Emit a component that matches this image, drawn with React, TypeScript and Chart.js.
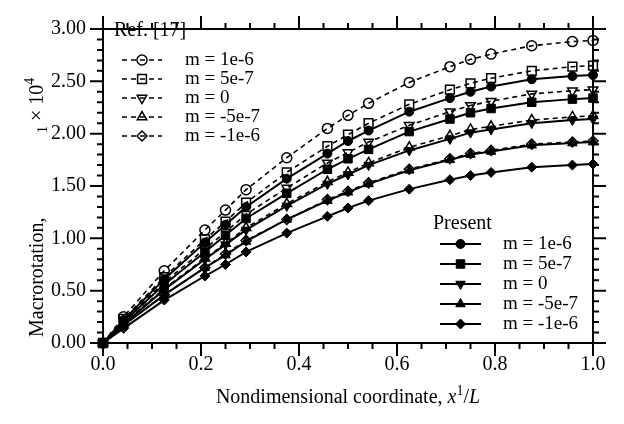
import React, { useEffect, useRef } from 'react';
import { Chart, registerables } from 'chart.js';
import { drawPoint } from 'chart.js/helpers';

Chart.register(...registerables);

const FONT = "'Liberation Serif', 'Times New Roman', serif";

// Nondimensional coordinate x1/L
const xCoord = [0, 0.042, 0.125, 0.208, 0.25, 0.292, 0.375, 0.458, 0.5, 0.542, 0.625, 0.708, 0.75, 0.792, 0.875, 0.958, 1.0];

// Ref. [17] (dashed, open markers)
const refM1e6 = [0, 0.25, 0.69, 1.08, 1.27, 1.465, 1.77, 2.05, 2.175, 2.29, 2.49, 2.64, 2.71, 2.76, 2.84, 2.88, 2.89];
const refM5e7 = [0, 0.23, 0.63, 0.99, 1.16, 1.34, 1.63, 1.88, 1.99, 2.10, 2.28, 2.42, 2.48, 2.53, 2.60, 2.64, 2.65];
const refM0 = [0, 0.21, 0.58, 0.9, 1.06, 1.23, 1.48, 1.72, 1.82, 1.92, 2.08, 2.21, 2.27, 2.31, 2.38, 2.41, 2.42];
const refMm5e7 = [0, 0.19, 0.52, 0.81, 0.95, 1.10, 1.33, 1.54, 1.63, 1.72, 1.87, 1.98, 2.04, 2.07, 2.13, 2.16, 2.17];
const refMm1e6 = [0, 0.17, 0.46, 0.72, 0.85, 0.98, 1.18, 1.37, 1.45, 1.53, 1.66, 1.76, 1.81, 1.84, 1.90, 1.92, 1.93];

// Present (solid, filled markers)
const preM1e6 = [0, 0.22, 0.61, 0.96, 1.13, 1.30, 1.57, 1.81, 1.93, 2.03, 2.21, 2.34, 2.40, 2.45, 2.52, 2.55, 2.56];
const preM5e7 = [0, 0.20, 0.56, 0.87, 1.03, 1.19, 1.43, 1.66, 1.76, 1.85, 2.02, 2.14, 2.20, 2.24, 2.30, 2.33, 2.34];
const preM0 = [0, 0.18, 0.51, 0.80, 0.94, 1.08, 1.31, 1.52, 1.61, 1.70, 1.84, 1.95, 2.01, 2.04, 2.10, 2.13, 2.14];
const preMm5e7 = [0, 0.17, 0.46, 0.72, 0.84, 0.97, 1.18, 1.36, 1.44, 1.52, 1.65, 1.75, 1.80, 1.83, 1.89, 1.91, 1.92];
const preMm1e6 = [0, 0.14, 0.41, 0.64, 0.75, 0.87, 1.05, 1.21, 1.29, 1.36, 1.47, 1.56, 1.60, 1.63, 1.68, 1.70, 1.71];

const seriesLabels = ['m = 1e-6', 'm = 5e-7', 'm = 0', 'm = -5e-7', 'm = -1e-6'];
const refTitle = 'Ref. [17]';
const presentTitle = 'Present';

const xTickValues = [0, 0.2, 0.4, 0.6, 0.8, 1.0];
const xTickLabels = ['0.0', '0.2', '0.4', '0.6', '0.8', '1.0'];
const yTickValues = [0, 0.5, 1.0, 1.5, 2.0, 2.5, 3.0];
const yTickLabels = ['0.00', '0.50', '1.00', '1.50', '2.00', '2.50', '3.00'];
const xMinorStep = 0.05;
const yMinorStep = 0.1;

const markerStyles = [
  { pointStyle: 'circle', rotation: 0 },
  { pointStyle: 'rect', rotation: 0 },
  { pointStyle: 'triangle', rotation: 180 },
  { pointStyle: 'triangle', rotation: 0 },
  { pointStyle: 'rectRot', rotation: 0 },
];
const refRadius = [5, 6.2, 5.5, 5.5, 5];
const preRadius = [4.5, 6, 5.5, 5.5, 5];

const refSeries = [refM1e6, refM5e7, refM0, refMm5e7, refMm1e6];
const preSeries = [preM1e6, preM5e7, preM0, preMm5e7, preMm1e6];

function toPoints(arr: number[]) {
  return xCoord.map((x, i) => ({ x, y: arr[i] }));
}

const decorPlugin = {
  id: 'decor',
  afterDraw(chart: any) {
    const { ctx, chartArea: a, scales } = chart;
    const xs = scales.x;
    const ys = scales.y;
    ctx.save();
    ctx.strokeStyle = '#000';
    ctx.fillStyle = '#000';
    ctx.lineWidth = 2;
    ctx.setLineDash([]);
    // frame
    ctx.beginPath();
    ctx.rect(a.left, a.top, a.right - a.left, a.bottom - a.top);
    ctx.stroke();
    // ticks (outward on all four sides)
    ctx.beginPath();
    const nx = Math.round((xs.max - xs.min) / xMinorStep);
    for (let i = 0; i <= nx; i++) {
      const v = xs.min + i * xMinorStep;
      const major = xTickValues.some((t) => Math.abs(t - v) < 1e-6);
      const len = major ? 13 : 6;
      const px = xs.getPixelForValue(v);
      ctx.moveTo(px, a.bottom);
      ctx.lineTo(px, a.bottom + len);
      ctx.moveTo(px, a.top);
      ctx.lineTo(px, a.top - len);
    }
    const ny = Math.round((ys.max - ys.min) / yMinorStep);
    for (let i = 0; i <= ny; i++) {
      const v = ys.min + i * yMinorStep;
      const major = yTickValues.some((t) => Math.abs(t - v) < 1e-6);
      const len = major ? 13 : 6;
      const py = ys.getPixelForValue(v);
      ctx.moveTo(a.left, py);
      ctx.lineTo(a.left - len, py);
      ctx.moveTo(a.right, py);
      ctx.lineTo(a.right + len, py);
    }
    ctx.stroke();

    // legends
    const drawLegend = (
      title: string,
      titleX: number,
      titleY: number,
      x1: number,
      x2: number,
      textX: number,
      rows: number[],
      dsOffset: number
    ) => {
      ctx.font = `20px ${FONT}`;
      ctx.textAlign = 'left';
      ctx.textBaseline = 'middle';
      ctx.fillStyle = '#000';
      ctx.fillText(title, titleX, titleY);
      rows.forEach((ry, i) => {
        const ds = chart.data.datasets[dsOffset + i];
        ctx.save();
        ctx.strokeStyle = '#000';
        ctx.lineWidth = ds.borderWidth;
        ctx.setLineDash(ds.borderDash || []);
        ctx.beginPath();
        ctx.moveTo(x1, ry);
        ctx.lineTo(x2, ry);
        ctx.stroke();
        ctx.setLineDash([]);
        ctx.fillStyle = ds.pointBackgroundColor;
        ctx.strokeStyle = ds.pointBorderColor;
        ctx.lineWidth = ds.pointBorderWidth;
        drawPoint(
          ctx,
          {
            pointStyle: ds.pointStyle,
            rotation: ds.pointRotation,
            radius: ds.pointRadius,
            borderWidth: ds.pointBorderWidth,
          },
          (x1 + x2) / 2,
          ry
        );
        ctx.restore();
        ctx.fillStyle = '#000';
        ctx.font = `19px ${FONT}`;
        ctx.textAlign = 'left';
        ctx.textBaseline = 'middle';
        ctx.fillText(seriesLabels[i], textX, ry);
      });
    };
    drawLegend(refTitle, 114, 31, 122, 162, 185, [60, 79, 98, 117, 136], 0);
    drawLegend(presentTitle, 433, 224, 440, 481, 503, [244, 264, 284, 304, 324], 5);

    // x-axis title
    const cx = (a.left + a.right) / 2;
    const baseX = 403;
    const parts = [
      { t: 'Nondimensional coordinate, ', f: `20px ${FONT}`, dy: 0 },
      { t: 'x', f: `italic 20px ${FONT}`, dy: 0 },
      { t: '1', f: `14px ${FONT}`, dy: -8 },
      { t: '/', f: `20px ${FONT}`, dy: 0 },
      { t: 'L', f: `italic 20px ${FONT}`, dy: 0 },
    ];
    let total = 0;
    parts.forEach((p) => {
      ctx.font = p.f;
      total += ctx.measureText(p.t).width;
    });
    let px = cx - total / 2;
    ctx.textAlign = 'left';
    ctx.textBaseline = 'alphabetic';
    parts.forEach((p) => {
      ctx.font = p.f;
      ctx.fillText(p.t, px, baseX + p.dy);
      px += ctx.measureText(p.t).width;
    });

    // y-axis title (rotated)
    ctx.save();
    ctx.translate(43, 337);
    ctx.rotate(-Math.PI / 2);
    ctx.textAlign = 'left';
    ctx.textBaseline = 'alphabetic';
    ctx.font = `20px ${FONT}`;
    ctx.fillText('Macrorotation,', 0, 0);
    let yp = 204;
    const yparts = [
      { t: '1', f: `14px ${FONT}`, dy: 4 },
      { t: ' \u00d7 10', f: `20px ${FONT}`, dy: 0 },
      { t: '4', f: `14px ${FONT}`, dy: -9 },
    ];
    yparts.forEach((p) => {
      ctx.font = p.f;
      ctx.fillText(p.t, yp, p.dy);
      yp += ctx.measureText(p.t).width;
    });
    ctx.restore();

    ctx.restore();
  },
};

export default function App() {
  const canvasRef = useRef<HTMLCanvasElement | null>(null);

  useEffect(() => {
    const canvas = canvasRef.current;
    if (!canvas) return;

    const refDatasets = refSeries.map((arr, i) => ({
      label: 'Ref. [17] ' + seriesLabels[i],
      data: toPoints(arr),
      showLine: true,
      borderColor: '#000',
      borderWidth: 1.6,
      borderDash: [5, 4],
      pointStyle: markerStyles[i].pointStyle,
      pointRotation: markerStyles[i].rotation,
      pointRadius: refRadius[i],
      pointBackgroundColor: 'rgba(255,255,255,0)',
      pointBorderColor: '#000',
      pointBorderWidth: 1.5,
      tension: 0,
      clip: false,
    }));
    const preDatasets = preSeries.map((arr, i) => ({
      label: 'Present ' + seriesLabels[i],
      data: toPoints(arr),
      showLine: true,
      borderColor: '#000',
      borderWidth: 2,
      pointStyle: markerStyles[i].pointStyle,
      pointRotation: markerStyles[i].rotation,
      pointRadius: preRadius[i],
      pointBackgroundColor: '#000',
      pointBorderColor: '#000',
      pointBorderWidth: 1,
      tension: 0,
      clip: false,
    }));

    const chart = new Chart(canvas, {
      type: 'scatter',
      data: { datasets: [...refDatasets, ...preDatasets] as any },
      options: {
        responsive: false,
        animation: false,
        devicePixelRatio: 1,
        layout: { padding: { top: 16, right: 31, left: 0, bottom: 0 } },
        plugins: {
          legend: { display: false },
          tooltip: { enabled: false },
          title: { display: false },
        },
        scales: {
          x: {
            type: 'linear',
            min: 0,
            max: 1,
            afterBuildTicks: (s: any) => {
              s.ticks = xTickValues.map((v) => ({ value: v }));
            },
            afterFit: (s: any) => {
              s.height = 81;
            },
            ticks: {
              callback: (_v: any, i: number) => xTickLabels[i],
              font: { family: FONT, size: 20 },
              color: '#000',
              padding: 10,
              maxRotation: 0,
              autoSkip: false,
            },
            grid: { display: false, drawTicks: false },
            border: { display: false },
          },
          y: {
            type: 'linear',
            min: 0,
            max: 3,
            afterBuildTicks: (s: any) => {
              s.ticks = yTickValues.map((v) => ({ value: v }));
            },
            afterFit: (s: any) => {
              s.width = 103;
            },
            ticks: {
              callback: (_v: any, i: number) => yTickLabels[i],
              font: { family: FONT, size: 20 },
              color: '#000',
              padding: 17,
              autoSkip: false,
            },
            grid: { display: false, drawTicks: false },
            border: { display: false },
          },
        },
      } as any,
      plugins: [decorPlugin],
    });

    return () => chart.destroy();
  }, []);

  return (
    <div style={{ position: 'fixed', left: 0, top: 0, width: 624, height: 424, background: '#fff' }}>
      <canvas ref={canvasRef} width={624} height={424} style={{ display: 'block', width: 624, height: 424 }} />
    </div>
  );
}
